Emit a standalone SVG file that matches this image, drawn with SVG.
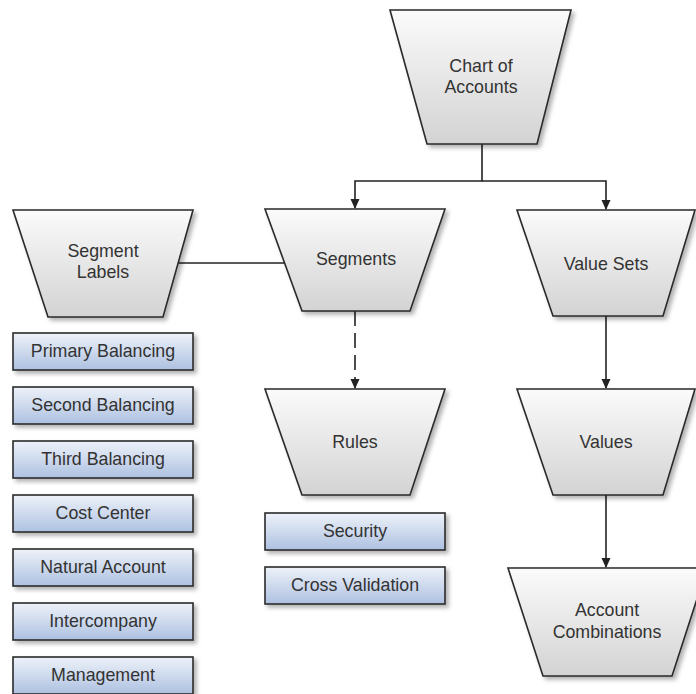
<svg xmlns="http://www.w3.org/2000/svg" width="696" height="694" viewBox="0 0 696 694">
<defs>
<linearGradient id="gTrap" x1="0" y1="0" x2="0" y2="1">
<stop offset="0" stop-color="#fbfbfb"/>
<stop offset="1" stop-color="#d3d3d3"/>
</linearGradient>
<linearGradient id="gBox" x1="0" y1="0" x2="0" y2="1">
<stop offset="0" stop-color="#eef2f9"/>
<stop offset="1" stop-color="#adc1e1"/>
</linearGradient>
<filter id="sh" x="-10%" y="-10%" width="125%" height="130%">
<feDropShadow dx="3" dy="3" stdDeviation="2" flood-color="#000" flood-opacity="0.3"/>
</filter>
<marker id="arr" markerWidth="10" markerHeight="10" refX="9" refY="5" orient="auto" markerUnits="userSpaceOnUse">
<path d="M0,0.5 L10,5 L0,9.5 Z" fill="#222"/>
</marker>
<style>
.trap{fill:url(#gTrap);stroke:#2a2a2a;stroke-width:1.6;filter:url(#sh)}
.box{fill:url(#gBox);stroke:#2a2a2a;stroke-width:1.6;filter:url(#sh)}
text{font-family:"Liberation Sans",Arial,sans-serif;font-size:17.8px;fill:#333;text-anchor:middle}
.con{fill:none;stroke:#222;stroke-width:1.6}
</style>
</defs>

<g id="connectors">
<path class="con" d="M482,144 V181 H355 V208" marker-end="url(#arr)"/>
<path class="con" d="M482,181 H606 V209" marker-end="url(#arr)"/>
<path class="con" d="M178,263 H285"/>
<path class="con" d="M355,311 V388" stroke-dasharray="15 7" marker-end="url(#arr)"/>
<path class="con" d="M606,316 V388" marker-end="url(#arr)"/>
<path class="con" d="M606,495 V567" marker-end="url(#arr)"/>
</g>

<g id="chart-of-accounts">
<polygon class="trap" points="390,10 571,10 537,144 427,144"/>
<text x="481" y="72">Chart of</text>
<text x="481" y="93">Accounts</text>
</g>

<g id="segment-labels">
<polygon class="trap" points="13,210 193,210 163,317 48,317"/>
<text x="103" y="257">Segment</text>
<text x="103" y="278">Labels</text>
</g>

<g id="segments">
<polygon class="trap" points="265,209 445,209 410,311 302,311"/>
<text x="356" y="265">Segments</text>
</g>

<g id="value-sets">
<polygon class="trap" points="517,210 695,210 663,316 553,316"/>
<text x="606" y="270">Value Sets</text>
</g>

<g id="rules">
<polygon class="trap" points="265,389 445,389 410,495 302,495"/>
<text x="355" y="448">Rules</text>
</g>

<g id="values">
<polygon class="trap" points="517,389 695,389 663,495 553,495"/>
<text x="606" y="448">Values</text>
</g>

<g id="account-combinations">
<polygon class="trap" points="508,568 707,568 672,676 543,676"/>
<text x="607" y="616">Account</text>
<text x="607" y="638">Combinations</text>
</g>

<g id="primary-balancing">
<rect class="box" x="13" y="333" width="180" height="37"/>
<text x="103" y="357">Primary Balancing</text>
</g>
<g id="second-balancing">
<rect class="box" x="13" y="387" width="180" height="37"/>
<text x="103" y="411">Second Balancing</text>
</g>
<g id="third-balancing">
<rect class="box" x="13" y="441" width="180" height="37"/>
<text x="103" y="465">Third Balancing</text>
</g>
<g id="cost-center">
<rect class="box" x="13" y="495" width="180" height="37"/>
<text x="103" y="519">Cost Center</text>
</g>
<g id="natural-account">
<rect class="box" x="13" y="549" width="180" height="37"/>
<text x="103" y="573">Natural Account</text>
</g>
<g id="intercompany">
<rect class="box" x="13" y="603" width="180" height="37"/>
<text x="103" y="627">Intercompany</text>
</g>
<g id="management">
<rect class="box" x="13" y="657" width="180" height="37"/>
<text x="103" y="681">Management</text>
</g>

<g id="security">
<rect class="box" x="265" y="513" width="180" height="37"/>
<text x="355" y="537">Security</text>
</g>
<g id="cross-validation">
<rect class="box" x="265" y="567" width="180" height="37"/>
<text x="355" y="591">Cross Validation</text>
</g>
</svg>
